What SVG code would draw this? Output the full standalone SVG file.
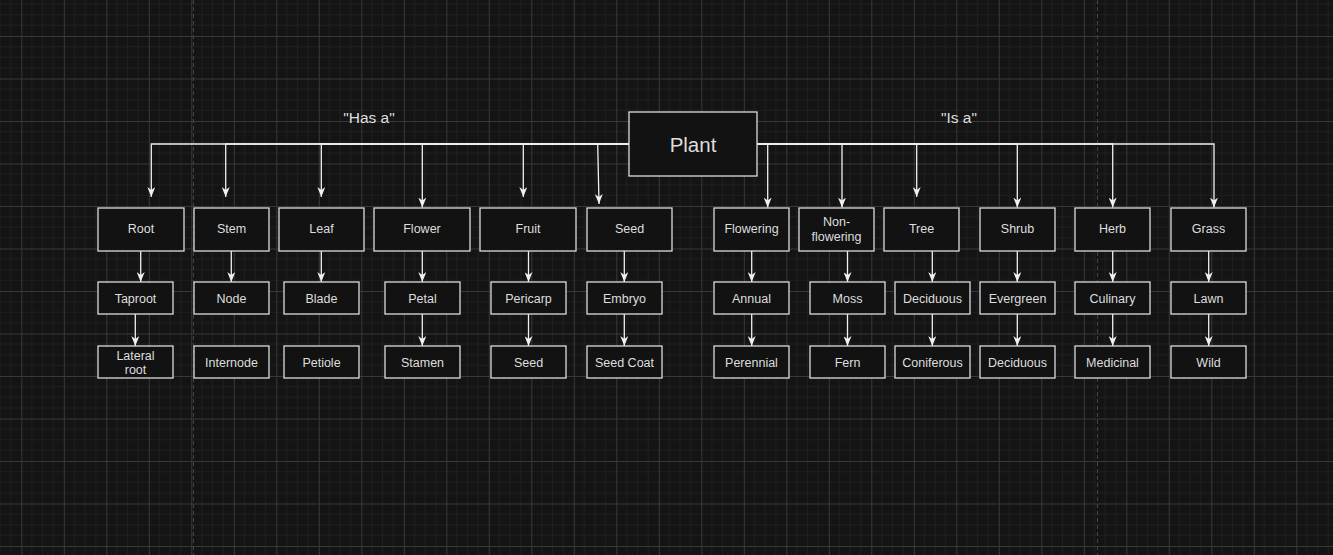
<svg xmlns="http://www.w3.org/2000/svg" width="1333" height="555" viewBox="0 0 1333 555">
  <defs>
    <pattern id="grid" patternUnits="userSpaceOnUse" x="21.3" y="-6.5" width="42.5" height="42.5">
      <rect width="42.5" height="42.5" fill="#141414"/>
      <g stroke="#1f1f1f" stroke-width="1">
        <path d="M10.625 0V42.5M21.25 0V42.5M31.875 0V42.5M0 10.625H42.5M0 21.25H42.5M0 31.875H42.5"/>
      </g>
      <path d="M0.5 0V42.5M0 0.5H42.5" stroke="#383838" stroke-width="1"/>
    </pattern>
    <marker id="arrow" markerUnits="userSpaceOnUse" viewBox="0 0 10 8" markerWidth="10" markerHeight="8" refX="10" refY="4" orient="auto">
      <path d="M0,0 L10,4 L0,8 L3,4 Z" fill="#f0f0f0"/>
    </marker>
  </defs>
  <style>
    .box { fill: #121212; stroke: #dcdcdc; stroke-width: 1.3; }
    .lbl { font-family: "Liberation Sans", Arial, sans-serif; font-size: 12.5px; fill: #dedede; text-anchor: middle; }
    .big { font-size: 20.5px; }
    .rel { font-family: "Liberation Sans", Arial, sans-serif; font-size: 15.5px; fill: #dedede; text-anchor: middle; }
    .edge { fill: none; stroke: #f0f0f0; stroke-width: 1.3; marker-end: url(#arrow); }
    .page { stroke: #444444; stroke-width: 1; stroke-dasharray: 4 3; }
  </style>

  <!-- canvas grid and page boundaries -->
  <rect width="1333" height="555" fill="url(#grid)"/>
  <path class="page" d="M193.5 0V555M1097.5 0V555"/>

  <!-- relationship captions -->
  <text class="rel" x="369" y="122.5">"Has a"</text>
  <text class="rel" x="959" y="122.5">"Is a"</text>

  <!-- connectors -->
  <g id="connectors">
    <!-- "Has a" branch -->
    <path class="edge" d="M629 144H151.3V197"/>
    <path class="edge" d="M629 144H225.7V197"/>
    <path class="edge" d="M629 144H321.3V197"/>
    <path class="edge" d="M629 144H422.3V207.5"/>
    <path class="edge" d="M629 144H523.3V197"/>
    <path class="edge" d="M629 144H597.7L599 204"/>
    <!-- "Is a" branch -->
    <path class="edge" d="M757 144H767.7V207.5"/>
    <path class="edge" d="M757 144H842V207.5"/>
    <path class="edge" d="M757 144H916.7V197"/>
    <path class="edge" d="M757 144H1017.3V207.5"/>
    <path class="edge" d="M757 144H1112.7V207.5"/>
    <path class="edge" d="M757 144H1214V207.5"/>
    <!-- second and third levels -->
    <path class="edge" d="M140.7 251V282"/>
    <path class="edge" d="M135.3 314V346"/>
    <path class="edge" d="M231.3 251V282"/>
    <path class="edge" d="M321.3 251V282"/>
    <path class="edge" d="M422.3 251V282"/>
    <path class="edge" d="M422.3 314V346"/>
    <path class="edge" d="M528.5 251V282"/>
    <path class="edge" d="M528.5 314V346"/>
    <path class="edge" d="M624.3 251V282"/>
    <path class="edge" d="M624.3 314V346"/>
    <path class="edge" d="M751.7 251V282"/>
    <path class="edge" d="M751.7 314V346"/>
    <path class="edge" d="M847.5 251V282"/>
    <path class="edge" d="M847.5 314V346"/>
    <path class="edge" d="M932.3 251V282"/>
    <path class="edge" d="M932.3 314V346"/>
    <path class="edge" d="M1017.3 251V282"/>
    <path class="edge" d="M1017.3 314V346"/>
    <path class="edge" d="M1112.7 251V282"/>
    <path class="edge" d="M1112.7 314V346"/>
    <path class="edge" d="M1208.7 251V282"/>
    <path class="edge" d="M1208.7 314V346"/>
  </g>

  <!-- root node -->
  <g id="plant"><rect class="box" x="629" y="112" width="128" height="64"/><text class="lbl big" x="693" y="151.5">Plant</text></g>

  <!-- "Has a" parts -->
  <g id="root"><rect class="box" x="98" y="208" width="86" height="43"/><text class="lbl" x="141" y="233">Root</text></g>
  <g id="stem"><rect class="box" x="194" y="208" width="75" height="43"/><text class="lbl" x="231.5" y="233">Stem</text></g>
  <g id="leaf"><rect class="box" x="279" y="208" width="85" height="43"/><text class="lbl" x="321.5" y="233">Leaf</text></g>
  <g id="flower"><rect class="box" x="374" y="208" width="96" height="43"/><text class="lbl" x="422" y="233">Flower</text></g>
  <g id="fruit"><rect class="box" x="480" y="208" width="96" height="43"/><text class="lbl" x="528" y="233">Fruit</text></g>
  <g id="seed"><rect class="box" x="587" y="208" width="85" height="43"/><text class="lbl" x="629.5" y="233">Seed</text></g>

  <g id="taproot"><rect class="box" x="98" y="282" width="75" height="32"/><text class="lbl" x="135.5" y="303">Taproot</text></g>
  <g id="node"><rect class="box" x="194" y="282" width="75" height="32"/><text class="lbl" x="231.5" y="303">Node</text></g>
  <g id="blade"><rect class="box" x="284" y="282" width="75" height="32"/><text class="lbl" x="321.5" y="303">Blade</text></g>
  <g id="petal"><rect class="box" x="385" y="282" width="75" height="32"/><text class="lbl" x="422.5" y="303">Petal</text></g>
  <g id="pericarp"><rect class="box" x="491" y="282" width="75" height="32"/><text class="lbl" x="528.5" y="303">Pericarp</text></g>
  <g id="embryo"><rect class="box" x="587" y="282" width="75" height="32"/><text class="lbl" x="624.5" y="303">Embryo</text></g>

  <g id="lateral-root"><rect class="box" x="98" y="346" width="75" height="32"/><text class="lbl" x="135.5" y="359.5">Lateral</text><text class="lbl" x="135.5" y="373.5">root</text></g>
  <g id="internode"><rect class="box" x="194" y="346" width="75" height="32"/><text class="lbl" x="231.5" y="367">Internode</text></g>
  <g id="petiole"><rect class="box" x="284" y="346" width="75" height="32"/><text class="lbl" x="321.5" y="367">Petiole</text></g>
  <g id="stamen"><rect class="box" x="385" y="346" width="75" height="32"/><text class="lbl" x="422.5" y="367">Stamen</text></g>
  <g id="fruit-seed"><rect class="box" x="491" y="346" width="75" height="32"/><text class="lbl" x="528.5" y="367">Seed</text></g>
  <g id="seed-coat"><rect class="box" x="587" y="346" width="75" height="32"/><text class="lbl" x="624.5" y="367">Seed Coat</text></g>

  <!-- "Is a" kinds -->
  <g id="flowering"><rect class="box" x="714" y="208" width="75" height="43"/><text class="lbl" x="751.5" y="233">Flowering</text></g>
  <g id="non-flowering"><rect class="box" x="799" y="208" width="75" height="43"/><text class="lbl" x="836.5" y="226">Non-</text><text class="lbl" x="836.5" y="240.5">flowering</text></g>
  <g id="tree"><rect class="box" x="884" y="208" width="75" height="43"/><text class="lbl" x="921.5" y="233">Tree</text></g>
  <g id="shrub"><rect class="box" x="980" y="208" width="75" height="43"/><text class="lbl" x="1017.5" y="233">Shrub</text></g>
  <g id="herb"><rect class="box" x="1075" y="208" width="75" height="43"/><text class="lbl" x="1112.5" y="233">Herb</text></g>
  <g id="grass"><rect class="box" x="1171" y="208" width="75" height="43"/><text class="lbl" x="1208.5" y="233">Grass</text></g>

  <g id="annual"><rect class="box" x="714" y="282" width="75" height="32"/><text class="lbl" x="751.5" y="303">Annual</text></g>
  <g id="moss"><rect class="box" x="810" y="282" width="75" height="32"/><text class="lbl" x="847.5" y="303">Moss</text></g>
  <g id="deciduous-tree"><rect class="box" x="895" y="282" width="75" height="32"/><text class="lbl" x="932.5" y="303">Deciduous</text></g>
  <g id="evergreen"><rect class="box" x="980" y="282" width="75" height="32"/><text class="lbl" x="1017.5" y="303">Evergreen</text></g>
  <g id="culinary"><rect class="box" x="1075" y="282" width="75" height="32"/><text class="lbl" x="1112.5" y="303">Culinary</text></g>
  <g id="lawn"><rect class="box" x="1171" y="282" width="75" height="32"/><text class="lbl" x="1208.5" y="303">Lawn</text></g>

  <g id="perennial"><rect class="box" x="714" y="346" width="75" height="32"/><text class="lbl" x="751.5" y="367">Perennial</text></g>
  <g id="fern"><rect class="box" x="810" y="346" width="75" height="32"/><text class="lbl" x="847.5" y="367">Fern</text></g>
  <g id="coniferous"><rect class="box" x="895" y="346" width="75" height="32"/><text class="lbl" x="932.5" y="367">Coniferous</text></g>
  <g id="deciduous-shrub"><rect class="box" x="980" y="346" width="75" height="32"/><text class="lbl" x="1017.5" y="367">Deciduous</text></g>
  <g id="medicinal"><rect class="box" x="1075" y="346" width="75" height="32"/><text class="lbl" x="1112.5" y="367">Medicinal</text></g>
  <g id="wild"><rect class="box" x="1171" y="346" width="75" height="32"/><text class="lbl" x="1208.5" y="367">Wild</text></g>
</svg>
